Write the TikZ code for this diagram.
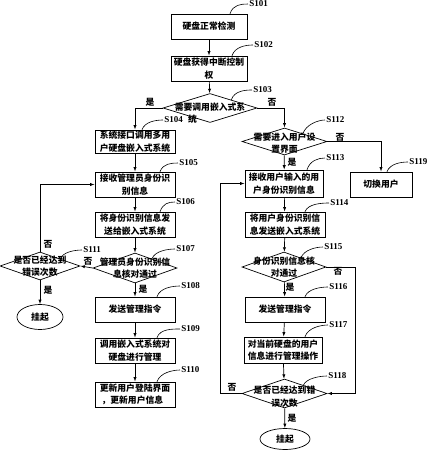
\documentclass[tikz,border=0pt]{standalone}
\usepackage{fontspec}
\setmainfont{Liberation Serif}
\newfontfamily\cjk{Noto Sans CJK SC}
\usetikzlibrary{shapes.geometric,arrows.meta,calc}

\begin{document}
\begin{tikzpicture}[
    x=1pt, y=-1pt,
    >={Latex[length=4.5pt,width=3.2pt]},
    line width=0.7pt,
    every node/.style={font=\cjk\bfseries\fontsize{8.8}{12.5}\selectfont},
    box/.style={draw, rectangle, minimum width=80pt, minimum height=25pt, align=center, inner sep=1pt},
    decision/.style={draw, diamond, minimum width=84pt, minimum height=30pt, inner sep=0pt},
    dtext/.style={align=center, inner sep=0pt},
    endnode/.style={draw, ellipse, minimum width=46pt, minimum height=25pt, inner sep=0pt},
    tag/.style={anchor=west, inner sep=1pt, font=\bfseries\fontsize{9}{10}\selectfont},
    tagline/.style={line width=0.6pt},
    yes/.style={inner sep=1pt}]

\useasboundingbox (0,0) rectangle (429,450);

\node[box, minimum width=76pt] (b101) at (209,26.5) {硬盘正常检测};
\node[box, minimum width=76pt] (b102) at (209,68.5) {硬盘获得中断控制\\权};
\node[decision, minimum width=94pt, minimum height=29pt] (d103) at (210,108) {};
\node[dtext] (t103) at ([yshift=-5pt]d103) {需要调用嵌入式系\\统\hspace*{4em}};

\node[box, minimum height=23pt] (b104) at (135,141.5) {系统接口调用多用\\户硬盘嵌入式系统};
\node[box] (b105) at (135,184.5) {接收管理员身份识\\别信息};
\node[box] (b106) at (135,224.5) {将身份识别信息发\\送给嵌入式系统};
\node[decision] (d107) at (135,268) {};
\node[dtext] (t107) at (d107) {管理员身份识别信\\息核对通过};
\node[decision, minimum width=80pt, minimum height=28pt] (d111) at (40,266) {};
\node[dtext] (t111) at (d111) {是否已经达到\\错误次数};
\node[endnode] (e111) at (40,317) {挂起};
\node[box] (b108) at (135,309.5) {发送管理指令};
\node[box] (b109) at (135,350.5) {调用嵌入式系统对\\硬盘进行管理};
\node[box] (b110) at (135,394.5) {更新用户登陆界面\\，更新用户信息\hspace*{0.6em}};

\node[decision, minimum width=85pt, minimum height=27pt] (d112) at (284.5,141.5) {};
\node[dtext] (t112) at ([yshift=-1.5pt]d112) {需要进入用户设\\置界面};
\node[box, minimum width=62pt] (b119) at (381,184.5) {切换用户};
\node[box, minimum width=78pt, minimum height=27pt] (b113) at (284,183.5) {接收用户输入的用\\户身份识别信息};
\node[box] (b114) at (285,224.5) {将用户身份识别信\\息发送嵌入式系统};
\node[decision] (d115) at (284,267) {};
\node[dtext] (t115) at (d115) {身份识别信息核\\对通过};
\node[box] (b116) at (285,309.5) {发送管理指令};
\node[box, minimum width=78pt, minimum height=26pt] (b117) at (283,350) {对当前硬盘的用户\\信息进行管理操作};
\node[decision, minimum width=85pt, minimum height=29pt] (d118) at (284.5,393.5) {};
\node[dtext] (t118) at ([yshift=-3pt]d118) {是否已经达到错\\误次数};
\node[endnode, minimum width=50pt, minimum height=21pt] (e118) at (285,439) {挂起};

\coordinate (r115) at (355,267);
\coordinate (l118) at (220,393.5);

\draw[->] (b101) -- (b102);
\draw[->] (b102) -- (d103);
\draw[->] (d103.west) -| (b104.north);
\draw[->] (d103.east) -| (d112.north);
\draw[->] (b104) -- (b105);
\draw[->] (b105) -- (b106);
\draw[->] (b106) -- (d107);
\draw[->] (d107.west) -- (d111.east);
\draw[->] (d111.north) |- (b105.west);
\draw[->] (d111) -- (e111);
\draw[->] (d107) -- (b108);
\draw[->] (b108) -- (b109);
\draw[->] (b109) -- (b110);
\draw[->] (d112.east) -| (b119.north);
\draw[->] (d112) -- (b113);
\draw[->] (b113) -- (b114);
\draw[->] (b114) -- (d115);
\draw[->] (d115.east) -- (r115) |- (d118.east);
\draw[->] (d115) -- (b116);
\draw[->] (b116) -- (b117);
\draw[->] (b117) -- (d118);
\draw[->] (d118.west) -- (l118) |- (b113.west);
\draw[->] (d118) -- (e118);

\node[yes] (y103) at (150,102) {是};
\node[yes] (n103) at (272,102) {否};
\node[yes] (n107) at (88,261) {否};
\node[yes] (n111) at (48,244) {否};
\node[yes] (y111) at (48,290) {是};
\node[yes] (y107) at (143,289) {是};
\node[yes] (n112) at (340,137) {否};
\node[yes] (y112) at (292,162) {是};
\node[yes] (n115) at (338,271) {否};
\node[yes] (y115) at (290,287) {是};
\node[yes] (n118) at (232,387) {否};
\node[yes] (y118) at (292,418) {是};

\node[tag] (s101) at (248,4) {S101};
\node[tag] (s102) at (253,45) {S102};
\node[tag] (s103) at (252,90) {S103};
\node[tag] (s104) at (163,120) {S104};
\node[tag] (s105) at (178,163) {S105};
\node[tag] (s106) at (175,202) {S106};
\node[tag] (s107) at (175,249) {S107};
\node[tag] (s108) at (180,286) {S108};
\node[tag] (s109) at (180,329) {S109};
\node[tag] (s110) at (180,370) {S110};
\node[tag] (s111) at (82,250) {S111};
\node[tag] (s112) at (325,120) {S112};
\node[tag] (s113) at (325,158) {S113};
\node[tag] (s114) at (329,203) {S114};
\node[tag] (s115) at (323,247) {S115};
\node[tag] (s116) at (328,287) {S116};
\node[tag] (s117) at (328,325) {S117};
\node[tag] (s118) at (327,376) {S118};
\node[tag] (s119) at (408,162) {S119};

\draw[tagline] ([xshift=21pt]b101.north) .. controls +(3,-9) and +(-7,0) .. (s101.west);
\draw[tagline] ([xshift=23pt]b102.north) .. controls +(3,-9) and +(-7,0) .. (s102.west);
\draw[tagline] ($(d103.north)!0.45!(d103.east)$) .. controls +(3,-9) and +(-7,0) .. (s103.west);
\draw[tagline] ([xshift=7pt]b104.north) .. controls +(3,-8) and +(-7,0) .. (s104.west);
\draw[tagline] ([xshift=25pt]b105.north) .. controls +(3,-8) and +(-7,0) .. (s105.west);
\draw[tagline] ([xshift=25pt]b106.north) .. controls +(3,-8) and +(-7,0) .. (s106.west);
\draw[tagline] ($(d107.north)!0.4!(d107.east)$) .. controls +(3,-8) and +(-7,0) .. (s107.west);
\draw[tagline] ([xshift=22pt]b108.north) .. controls +(3,-9) and +(-7,0) .. (s108.west);
\draw[tagline] ([xshift=22pt]b109.north) .. controls +(3,-9) and +(-7,0) .. (s109.west);
\draw[tagline] ([xshift=22pt]b110.north) .. controls +(3,-9) and +(-7,0) .. (s110.west);
\draw[tagline] ($(d111.north)!0.5!(d111.east)$) .. controls +(3,-7) and +(-7,0) .. (s111.west);
\draw[tagline] ($(d112.north)!0.43!(d112.east)$) .. controls +(3,-9) and +(-7,0) .. (s112.west);
\draw[tagline] ([xshift=23pt]b113.north) .. controls +(3,-9) and +(-7,0) .. (s113.west);
\draw[tagline] ([xshift=20pt]b114.north) .. controls +(3,-8) and +(-7,0) .. (s114.west);
\draw[tagline] ($(d115.north)!0.4!(d115.east)$) .. controls +(3,-8) and +(-7,0) .. (s115.west);
\draw[tagline] ([xshift=20pt]b116.north) .. controls +(3,-8) and +(-7,0) .. (s116.west);
\draw[tagline] ([xshift=22pt]b117.north) .. controls +(3,-9) and +(-7,0) .. (s117.west);
\draw[tagline] ($(d118.north)!0.44!(d118.east)$) .. controls +(3,-7) and +(-7,0) .. (s118.west);
\draw[tagline] ([xshift=6pt]b119.north) .. controls +(3,-8) and +(-7,0) .. (s119.west);

\end{tikzpicture}
\end{document}
